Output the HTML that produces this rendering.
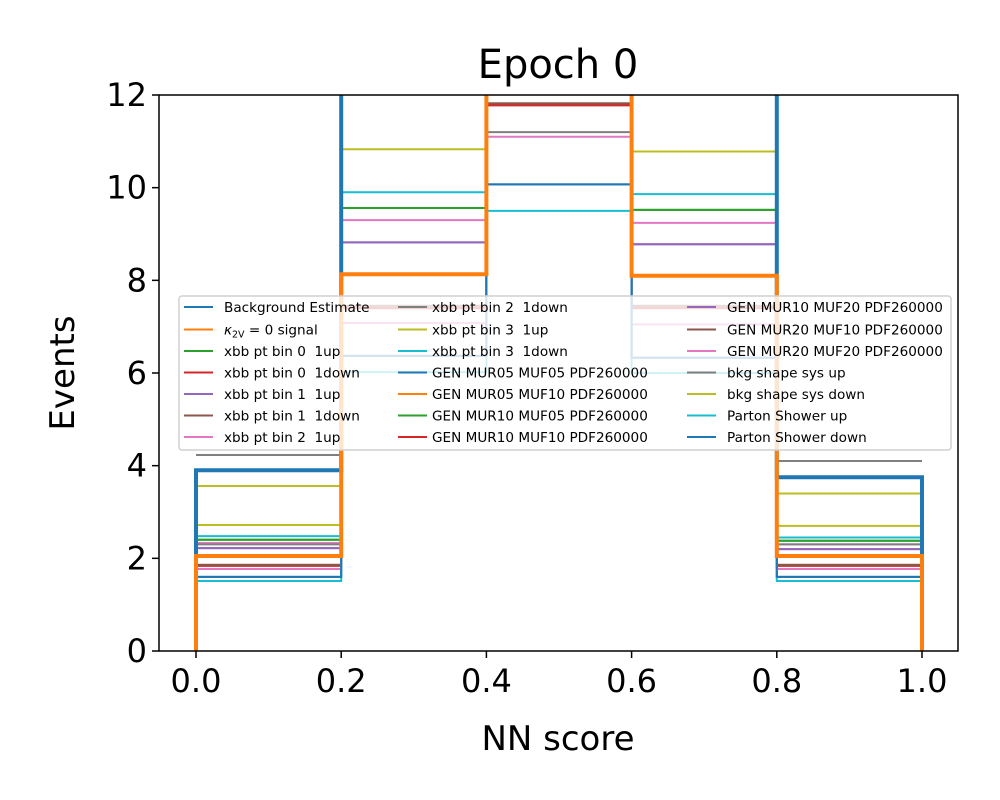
<!DOCTYPE html>
<html><head><meta charset="utf-8"><style>
body{margin:0;background:#fff}
svg{display:block;font-family:"DejaVu Sans","Liberation Sans",sans-serif}
text{white-space:pre}
</style></head><body>
<svg id="chart" width="1000" height="800" viewBox="0 0 1000 800"></svg>
<script>
const binEdges=[0,0.2,0.4,0.6,0.8,1.0];
const seriesNames=["Background Estimate","κ2V=0 signal","xbb pt bin 0  1up","xbb pt bin 0  1down","xbb pt bin 1  1up","xbb pt bin 1  1down","xbb pt bin 2  1up","xbb pt bin 2  1down","xbb pt bin 3  1up","xbb pt bin 3  1down","GEN MUR05 MUF05 PDF260000","GEN MUR05 MUF10 PDF260000","GEN MUR10 MUF05 PDF260000","GEN MUR10 MUF10 PDF260000","GEN MUR10 MUF20 PDF260000","GEN MUR20 MUF10 PDF260000","GEN MUR20 MUF20 PDF260000","bkg shape sys up","bkg shape sys down","Parton Shower up","Parton Shower down"];
const seriesColors=["#1f77b4","#ff7f0e","#2ca02c","#d62728","#9467bd","#8c564b","#e377c2","#7f7f7f","#bcbd22","#17becf","#1f77b4","#ff7f0e","#2ca02c","#d62728","#9467bd","#8c564b","#e377c2","#7f7f7f","#bcbd22","#17becf","#1f77b4"];
const background=[3.9,13.5,20,13.5,3.75];
const signal=[2.05,8.13,15,8.1,2.05];
const xbb0up=[2.4,9.56,13.8,9.52,2.38];
const xbb0down=[1.84,7.4,11.78,7.4,1.84];
const xbb1up=[2.22,8.82,13,8.78,2.2];
const xbb1down=[1.86,7.45,11.82,7.45,1.86];
const xbb2up=[2.33,9.3,13.5,9.24,2.3];
const xbb2down=[2.3,12.5,11.2,12.5,2.3];
const xbb3up=[2.72,10.83,14.5,10.78,2.7];
const xbb3down=[2.48,9.9,14,9.86,2.45];
const mur05muf05=[1.6,6.37,10.07,6.33,1.6];
const mur05muf10=[2.05,8.13,15,8.1,2.05];
const mur10muf05=[2.4,9.56,13.8,9.52,2.38];
const mur10muf10=[1.84,7.4,11.78,7.4,1.84];
const mur10muf20=[2.22,8.82,13,8.78,2.2];
const mur20muf10=[1.86,7.45,11.82,7.45,1.86];
const mur20muf20=[1.77,7.08,11.1,7.05,1.77];
const bkgUp=[4.23,14,22,14,4.1];
const bkgDown=[3.56,13,18,13,3.4];
const psUp=[1.51,6.02,9.5,6.0,1.51];
const psDown=[1.6,6.37,10.07,6.33,1.6];
const seriesValues=[background,signal,xbb0up,xbb0down,xbb1up,xbb1down,xbb2up,xbb2down,xbb3up,xbb3down,mur05muf05,mur05muf10,mur10muf05,mur10muf10,mur10muf20,mur20muf10,mur20muf20,bkgUp,bkgDown,psUp,psDown];
const xTicks=[0,0.2,0.4,0.6,0.8,1.0];
const xTickLabels=["0.0","0.2","0.4","0.6","0.8","1.0"];
const yTicks=[0,2,4,6,8,10,12];

const NS="http://www.w3.org/2000/svg";
const svg=document.getElementById("chart");
const L=159,R=958,T=95,B=651;
const xs=v=>196+v*726;
const ys=v=>B-(v/12)*(B-T);
function mk(tag,attrs,parent){const e=document.createElementNS(NS,tag);for(const k in attrs)e.setAttribute(k,attrs[k]);(parent||svg).appendChild(e);return e;}
const defs=mk("defs",{});
const cp=mk("clipPath",{id:"clip"},defs);
mk("rect",{x:L,y:T,width:R-L,height:B-T},cp);
const plot=mk("g",{"clip-path":"url(#clip)"});


const order=[];
for(let i=2;i<seriesValues.length;i++)order.push(i);
order.push(0,1);
order.forEach(i=>{
  const vals=seriesValues[i];
  let d="";
  const base=(i<2);
  if(base) d+=`M${xs(binEdges[0])},${ys(0)} L${xs(binEdges[0])},${ys(vals[0])}`;
  else d+=`M${xs(binEdges[0])},${ys(vals[0])}`;
  for(let b=0;b<vals.length;b++){
    d+=` L${xs(binEdges[b])},${ys(vals[b])} L${xs(binEdges[b+1])},${ys(vals[b])}`;
  }
  if(base) d+=` L${xs(binEdges[5])},${ys(0)}`;
  const p=mk("path",{d:d,fill:"none",stroke:seriesColors[i],"stroke-width":base?4:2},plot);
  
  
});
mk("rect",{x:L,y:T,width:R-L,height:B-T,fill:"none",stroke:"#000","stroke-width":1.5});
xTicks.forEach((t,i)=>{
  mk("line",{x1:xs(t),x2:xs(t),y1:B,y2:B+7,stroke:"#000","stroke-width":1.5});
  const tx=mk("text",{x:xs(t),y:B+41,"font-size":32,"text-anchor":"middle"});
  tx.textContent=xTickLabels[i];
  
  
});
yTicks.forEach(t=>{
  mk("line",{x1:L-7,x2:L,y1:ys(t),y2:ys(t),stroke:"#000","stroke-width":1.5});
  const tx=mk("text",{x:L-12,y:ys(t)+11,"font-size":32,"text-anchor":"end"});
  tx.textContent=String(t);
  
  
});
const title=mk("text",{x:558,y:78,"font-size":40,"text-anchor":"middle"});
title.textContent="Epoch 0";


const xl=mk("text",{x:558,y:750,"font-size":34,"text-anchor":"middle"});
xl.textContent="NN score";


const yl=mk("text",{x:0,y:0,"font-size":34,"text-anchor":"middle",transform:"translate(74,373) rotate(-90)"});
yl.textContent="Events";


const lg=mk("g",{});


mk("rect",{x:179,y:296,width:772,height:154,rx:3,fill:"rgba(255,255,255,0.8)",stroke:"#d0d0d0","stroke-width":1.5},lg);
const colH=[184,398,687],colT=[224,432,727];
const rowY=[307,329.5,351,372.5,394,415.5,437];
seriesNames.forEach((n,i)=>{
  const c=Math.floor(i/7),r=i%7;
  const g=mk("g",{},lg);
  
  
  mk("line",{x1:colH[c],x2:colH[c]+29,y1:rowY[r],y2:rowY[r],stroke:seriesColors[i],"stroke-width":2},g);
  const t=mk("text",{x:colT[c],y:rowY[r]+5,"font-size":13.6},g);
  if(i===1){t.innerHTML='<tspan font-style="italic">κ</tspan><tspan font-size="9.5" dy="3">2V</tspan><tspan dy="-3"> = 0 signal</tspan>';}
  else t.textContent=n;
});
</script>
</body></html>
